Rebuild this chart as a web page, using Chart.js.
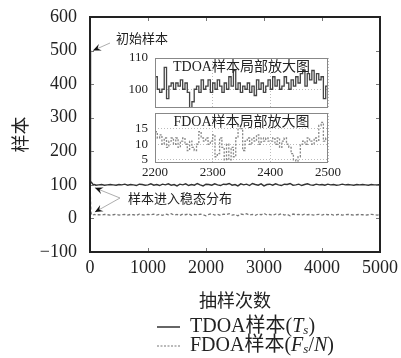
<!DOCTYPE html>
<html>
<head>
<meta charset="utf-8">
<script src="https://cdn.jsdelivr.net/npm/chart.js@4.4.1/dist/chart.umd.min.js"></script>
<style>
  body { margin: 0; background: #fff; }
  #wrap { position: relative; width: 401px; height: 358px; }
  canvas { position: absolute; }
  #main { left: 0; top: 0; }
  #inTd { left: 120px; top: 50px; }
  #inFd { left: 120px; top: 108px; }
</style>
</head>
<body>
<div id="wrap">
  <canvas id="main" width="401" height="358"></canvas>
  <canvas id="inTd" width="240" height="62"></canvas>
  <canvas id="inFd" width="240" height="72"></canvas>
</div>
<script>
const FONT = "'Liberation Serif', 'Noto Sans CJK SC', serif"
const CJK = "'Noto Sans CJK SC', sans-serif"

// burn-in part of the chain
const burnX = [0, 4, 8, 15, 25, 40, 60, 80, 100]
const burnTdoa = [500, 300, 104, 108, 108, 104, 100, 101, 99]
const burnFdoa = [95, 90, 60, 20, 12, 9, 11, 12, 10]

// stationary part, one value every 50 samples from 150 to 5000
const stepStart = 150
const stepSize = 50
const tdoaMain = [
  100, 101, 99, 100, 101, 100, 99, 101, 100, 102,
  99, 101, 100, 98, 102, 101, 99, 100, 103, 99,
  101, 98, 102, 100, 103, 99, 101, 97, 102, 100,
  103, 98, 101, 99, 104, 100, 97, 102, 101, 99,
  103, 100, 98, 102, 101, 104, 99, 101, 97, 103,
  100, 102, 98, 104, 101, 99, 103, 97, 101, 102,
  99, 103, 100, 98, 102, 101, 104, 99, 100, 102,
  98, 101, 103, 100, 99, 102, 100, 101, 99, 102,
  100, 101, 99, 100, 102, 100, 101, 100, 99, 101,
  100, 101, 100, 99, 101, 100, 100, 101
]
const fdoaMain = [
  11, 10, 12, 11, 10, 11, 12, 10, 11, 12,
  10, 12, 11, 9, 13, 11, 10, 12, 11, 13,
  10, 12, 9, 13, 11, 14, 10, 12, 9, 13,
  11, 14, 9, 12, 10, 13, 11, 8, 12, 14,
  10, 12, 9, 13, 11, 14, 10, 12, 8, 13,
  11, 14, 10, 12, 9, 13, 11, 15, 10, 12,
  9, 13, 11, 14, 10, 12, 8, 13, 11, 12,
  10, 13, 11, 12, 10, 11, 12, 10, 13, 11,
  12, 10, 11, 12, 10, 11, 12, 11, 10, 11,
  12, 11, 10, 11, 12, 11, 10, 11
]

// zoomed window 2200..2500, one value every 4 samples
const zoomStart = 2200
const zoomStep = 4
const tdoaZoom = [
  104, 100, 99, 100, 107, 97, 101, 102, 100, 102, 101, 103, 100,
  102, 99, 94, 96, 100, 101, 99, 103, 100, 101,
  103, 99, 102, 100, 103, 101, 99, 102, 100, 104, 101, 106,
  100, 102, 99, 101, 100, 102, 99, 101, 98, 103, 100, 102,
  99, 101, 103, 100, 104, 101, 103, 100, 101, 104, 102, 100,
  103, 101, 104, 102, 105, 106, 101, 105, 103, 106, 102, 105,
  103, 104, 97, 101, 100
]
const fdoaZoom = [
  14, 12, 13, 10, 12, 9, 11, 12, 10, 12, 9, 11, 12,
  10, 8, 11, 9, 8, 10, 14, 12, 11, 12,
  10, 11, 13, 6, 7, 12, 9, 5, 10, 5, 9, 6,
  12, 16, 15, 8, 11, 12, 10, 12, 11, 13, 10, 12,
  11, 12, 11, 11, 12, 10, 12, 9, 11, 12, 10, 9,
  7, 5, 4, 6, 10, 11, 10, 12, 11, 10, 12, 11,
  16, 17, 11, 12, 11
]

const xTicks = [0, 1000, 2000, 3000, 4000, 5000]
const yTicks = [-100, 0, 100, 200, 300, 400, 500, 600]
const zoomXTicks = [2200, 2300, 2400, 2500]
const tdoaZoomTicks = [100, 110]
const fdoaZoomTicks = [5, 10, 15]

function mainSeries (burn, vals) {
  const pts = burnX.map((x, i) => ({ x: x, y: burn[i] }))
  vals.forEach((v, i) => pts.push({ x: stepStart + i * stepSize, y: v }))
  return pts
}
function zoomSeries (vals) {
  return vals.map((v, i) => ({ x: zoomStart + i * zoomStep, y: v }))
}
function plain (v) { return v < 0 ? '\u2212' + Math.abs(v) : '' + v }
function noPad (s) { s.paddingTop = 0; s.paddingBottom = 0; s.paddingLeft = 0; s.paddingRight = 0 }

function arrow (ctx, x1, y1, x2, y2) {
  ctx.save()
  ctx.strokeStyle = '#999'
  ctx.lineWidth = 0.8
  ctx.beginPath()
  ctx.moveTo(x1, y1)
  ctx.lineTo(x2, y2)
  ctx.stroke()
  const a = Math.atan2(y2 - y1, x2 - x1)
  ctx.fillStyle = '#111'
  ctx.beginPath()
  ctx.moveTo(x2, y2)
  ctx.lineTo(x2 - 8 * Math.cos(a) + 3.5 * Math.sin(a), y2 - 8 * Math.sin(a) - 3.5 * Math.cos(a))
  ctx.lineTo(x2 - 5 * Math.cos(a), y2 - 5 * Math.sin(a))
  ctx.lineTo(x2 - 8 * Math.cos(a) - 3.5 * Math.sin(a), y2 - 8 * Math.sin(a) + 3.5 * Math.cos(a))
  ctx.closePath()
  ctx.fill()
  ctx.restore()
}

function rich (ctx, parts, x, y) {
  ctx.textBaseline = 'middle'
  ctx.textAlign = 'left'
  parts.forEach(p => {
    ctx.font = p.f
    ctx.fillText(p.t, x, y + (p.dy || 0))
    x += ctx.measureText(p.t).width
  })
}

const decor = {
  id: 'decor',
  afterDraw (chart) {
    const ctx = chart.ctx
    const a = chart.chartArea
    const xs = chart.scales.x
    const ys = chart.scales.y
    ctx.save()
    // inward ticks
    ctx.strokeStyle = '#777'
    ctx.lineWidth = 1
    ctx.beginPath()
    xTicks.forEach(t => {
      const px = Math.round(xs.getPixelForValue(t)) + 0.5
      ctx.moveTo(px, a.bottom); ctx.lineTo(px, a.bottom - 4)
      ctx.moveTo(px, a.top); ctx.lineTo(px, a.top + 4)
    })
    yTicks.forEach(t => {
      const py = Math.round(ys.getPixelForValue(t)) + 0.5
      ctx.moveTo(a.left, py); ctx.lineTo(a.left + 4, py)
      ctx.moveTo(a.right, py); ctx.lineTo(a.right - 4, py)
    })
    ctx.stroke()
    // frame
    ctx.strokeStyle = '#222'
    ctx.lineWidth = 2
    ctx.strokeRect(a.left, a.top, a.right - a.left, a.bottom - a.top)

    // annotations
    ctx.fillStyle = '#222'
    ctx.font = '13px ' + CJK
    ctx.textBaseline = 'middle'
    ctx.textAlign = 'left'
    ctx.fillText('初始样本', 116, 38)
    arrow(ctx, 110, 43, xs.getPixelForValue(0) + 3, ys.getPixelForValue(500))
    ctx.fillStyle = '#222'
    ctx.font = '13px ' + CJK
    ctx.fillText('样本进入稳态分布', 128, 198)
    arrow(ctx, 120, 198, xs.getPixelForValue(50) + 2, ys.getPixelForValue(100) + 3)
    arrow(ctx, 120, 198, xs.getPixelForValue(50) + 2, ys.getPixelForValue(10) - 3)

    // legend
    ctx.strokeStyle = '#333'
    ctx.lineWidth = 1.5
    ctx.beginPath(); ctx.moveTo(157, 327); ctx.lineTo(180, 327); ctx.stroke()
    ctx.strokeStyle = '#777'
    ctx.lineWidth = 1.2
    ctx.setLineDash([2, 1.5])
    ctx.beginPath(); ctx.moveTo(157, 346); ctx.lineTo(180, 346); ctx.stroke()
    ctx.setLineDash([])
    ctx.fillStyle = '#222'
    const n = '20px ' + FONT
    const it = 'italic 20px ' + FONT
    const sub = 'italic 13px ' + FONT
    rich(ctx, [{ t: 'TDOA样本(', f: n }, { t: 'T', f: it }, { t: 's', f: sub, dy: 4 }, { t: ')', f: n }], 190, 327)
    rich(ctx, [{ t: 'FDOA样本(', f: n }, { t: 'F', f: it }, { t: 's', f: sub, dy: 4 }, { t: '/', f: n }, { t: 'N', f: it }, { t: ')', f: n }], 190, 346)
    ctx.restore()
  }
}

new Chart(document.getElementById('main'), {
  type: 'line',
  data: {
    datasets: [
      {
        label: 'TDOA',
        data: mainSeries(burnTdoa, tdoaMain),
        borderColor: '#333',
        borderWidth: 1.4,
        pointRadius: 0,
        tension: 0
      },
      {
        label: 'FDOA',
        data: mainSeries(burnFdoa, fdoaMain),
        borderColor: '#777',
        borderWidth: 1.3,
        borderDash: [3, 2],
        pointRadius: 0,
        tension: 0
      }
    ]
  },
  options: {
    responsive: false,
    animation: false,
    layout: { padding: { top: 17, right: 21, bottom: 44, left: 0 } },
    plugins: { legend: { display: false }, tooltip: { enabled: false } },
    scales: {
      x: {
        type: 'linear', min: 0, max: 5000,
        afterBuildTicks: s => { s.ticks = xTicks.map(v => ({ value: v })) },
        afterFit: s => { s.height = 62; noPad(s) },
        grid: { display: false, drawTicks: false },
        border: { display: false },
        ticks: { color: '#222', font: { family: FONT, size: 18 }, padding: 5, maxRotation: 0, callback: plain },
        title: { display: true, text: '抽样次数', color: '#222', font: { family: CJK, size: 18 }, padding: { top: 0, bottom: 3 } }
      },
      y: {
        min: -100, max: 600,
        afterBuildTicks: s => { s.ticks = yTicks.map(v => ({ value: v })) },
        afterFit: s => { s.width = 90; noPad(s) },
        grid: { display: false, drawTicks: false },
        border: { display: false },
        ticks: { color: '#222', font: { family: FONT, size: 18 }, padding: 13, callback: plain },
        title: { display: true, text: '样本', color: '#222', font: { family: CJK, size: 18 }, padding: { top: 9, bottom: 0 } }
      }
    }
  },
  plugins: [decor]
})

function insetBox (title) {
  return {
    id: 'box',
    beforeDraw (chart) {
      const a = chart.chartArea
      chart.ctx.save()
      chart.ctx.fillStyle = '#fff'
      chart.ctx.fillRect(a.left, a.top, a.right - a.left, a.bottom - a.top)
      chart.ctx.restore()
    },
    afterDraw (chart) {
      const ctx = chart.ctx
      const a = chart.chartArea
      ctx.save()
      ctx.strokeStyle = '#888'
      ctx.lineWidth = 1
      ctx.strokeRect(a.left + 0.5, a.top + 0.5, a.right - a.left - 1, a.bottom - a.top - 1)
      ctx.fillStyle = '#222'
      ctx.font = '14px ' + FONT
      ctx.textAlign = 'center'
      ctx.textBaseline = 'middle'
      ctx.fillText(title, (a.left + a.right) / 2, a.top + 9)
      ctx.restore()
    }
  }
}

function inset (id, vals, ticks, ymin, ymax, color, dash, showX, pad, title) {
  new Chart(document.getElementById(id), {
    type: 'line',
    data: {
      datasets: [{
        data: zoomSeries(vals),
        borderColor: color,
        borderWidth: 1.3,
        borderDash: dash,
        pointRadius: 0,
        stepped: true
      }]
    },
    options: {
      responsive: false,
      animation: false,
      layout: { padding: pad },
      plugins: { legend: { display: false }, tooltip: { enabled: false } },
      scales: {
        x: {
          type: 'linear', min: 2200, max: 2500,
          afterBuildTicks: s => { s.ticks = zoomXTicks.map(v => ({ value: v })) },
          afterFit: s => { s.height = showX ? 17 : 0; noPad(s) },
          grid: { color: '#bbb', drawTicks: false },
          border: { display: false, dash: [1, 2] },
          ticks: { display: showX, color: '#222', font: { family: FONT, size: 13 }, padding: 2, maxRotation: 0, callback: plain }
        },
        y: {
          min: ymin, max: ymax,
          afterBuildTicks: s => { s.ticks = ticks.map(v => ({ value: v })) },
          afterFit: s => { s.width = 35; noPad(s) },
          grid: { color: '#bbb', drawTicks: false },
          border: { display: false, dash: [1, 2] },
          ticks: { color: '#222', font: { family: FONT, size: 13 }, padding: 7, callback: plain }
        }
      }
    },
    plugins: [insetBox(title)]
  })
}

inset('inTd', tdoaZoom, tdoaZoomTicks, 94, 110, '#444', [], false, { top: 8, right: 32, bottom: 4, left: 0 }, 'TDOA样本局部放大图')
inset('inFd', fdoaZoom, fdoaZoomTicks, 4, 20, '#888', [2, 1.5], true, { top: 5, right: 32, bottom: 0, left: 0 }, 'FDOA样本局部放大图')
</script>
</body>
</html>
